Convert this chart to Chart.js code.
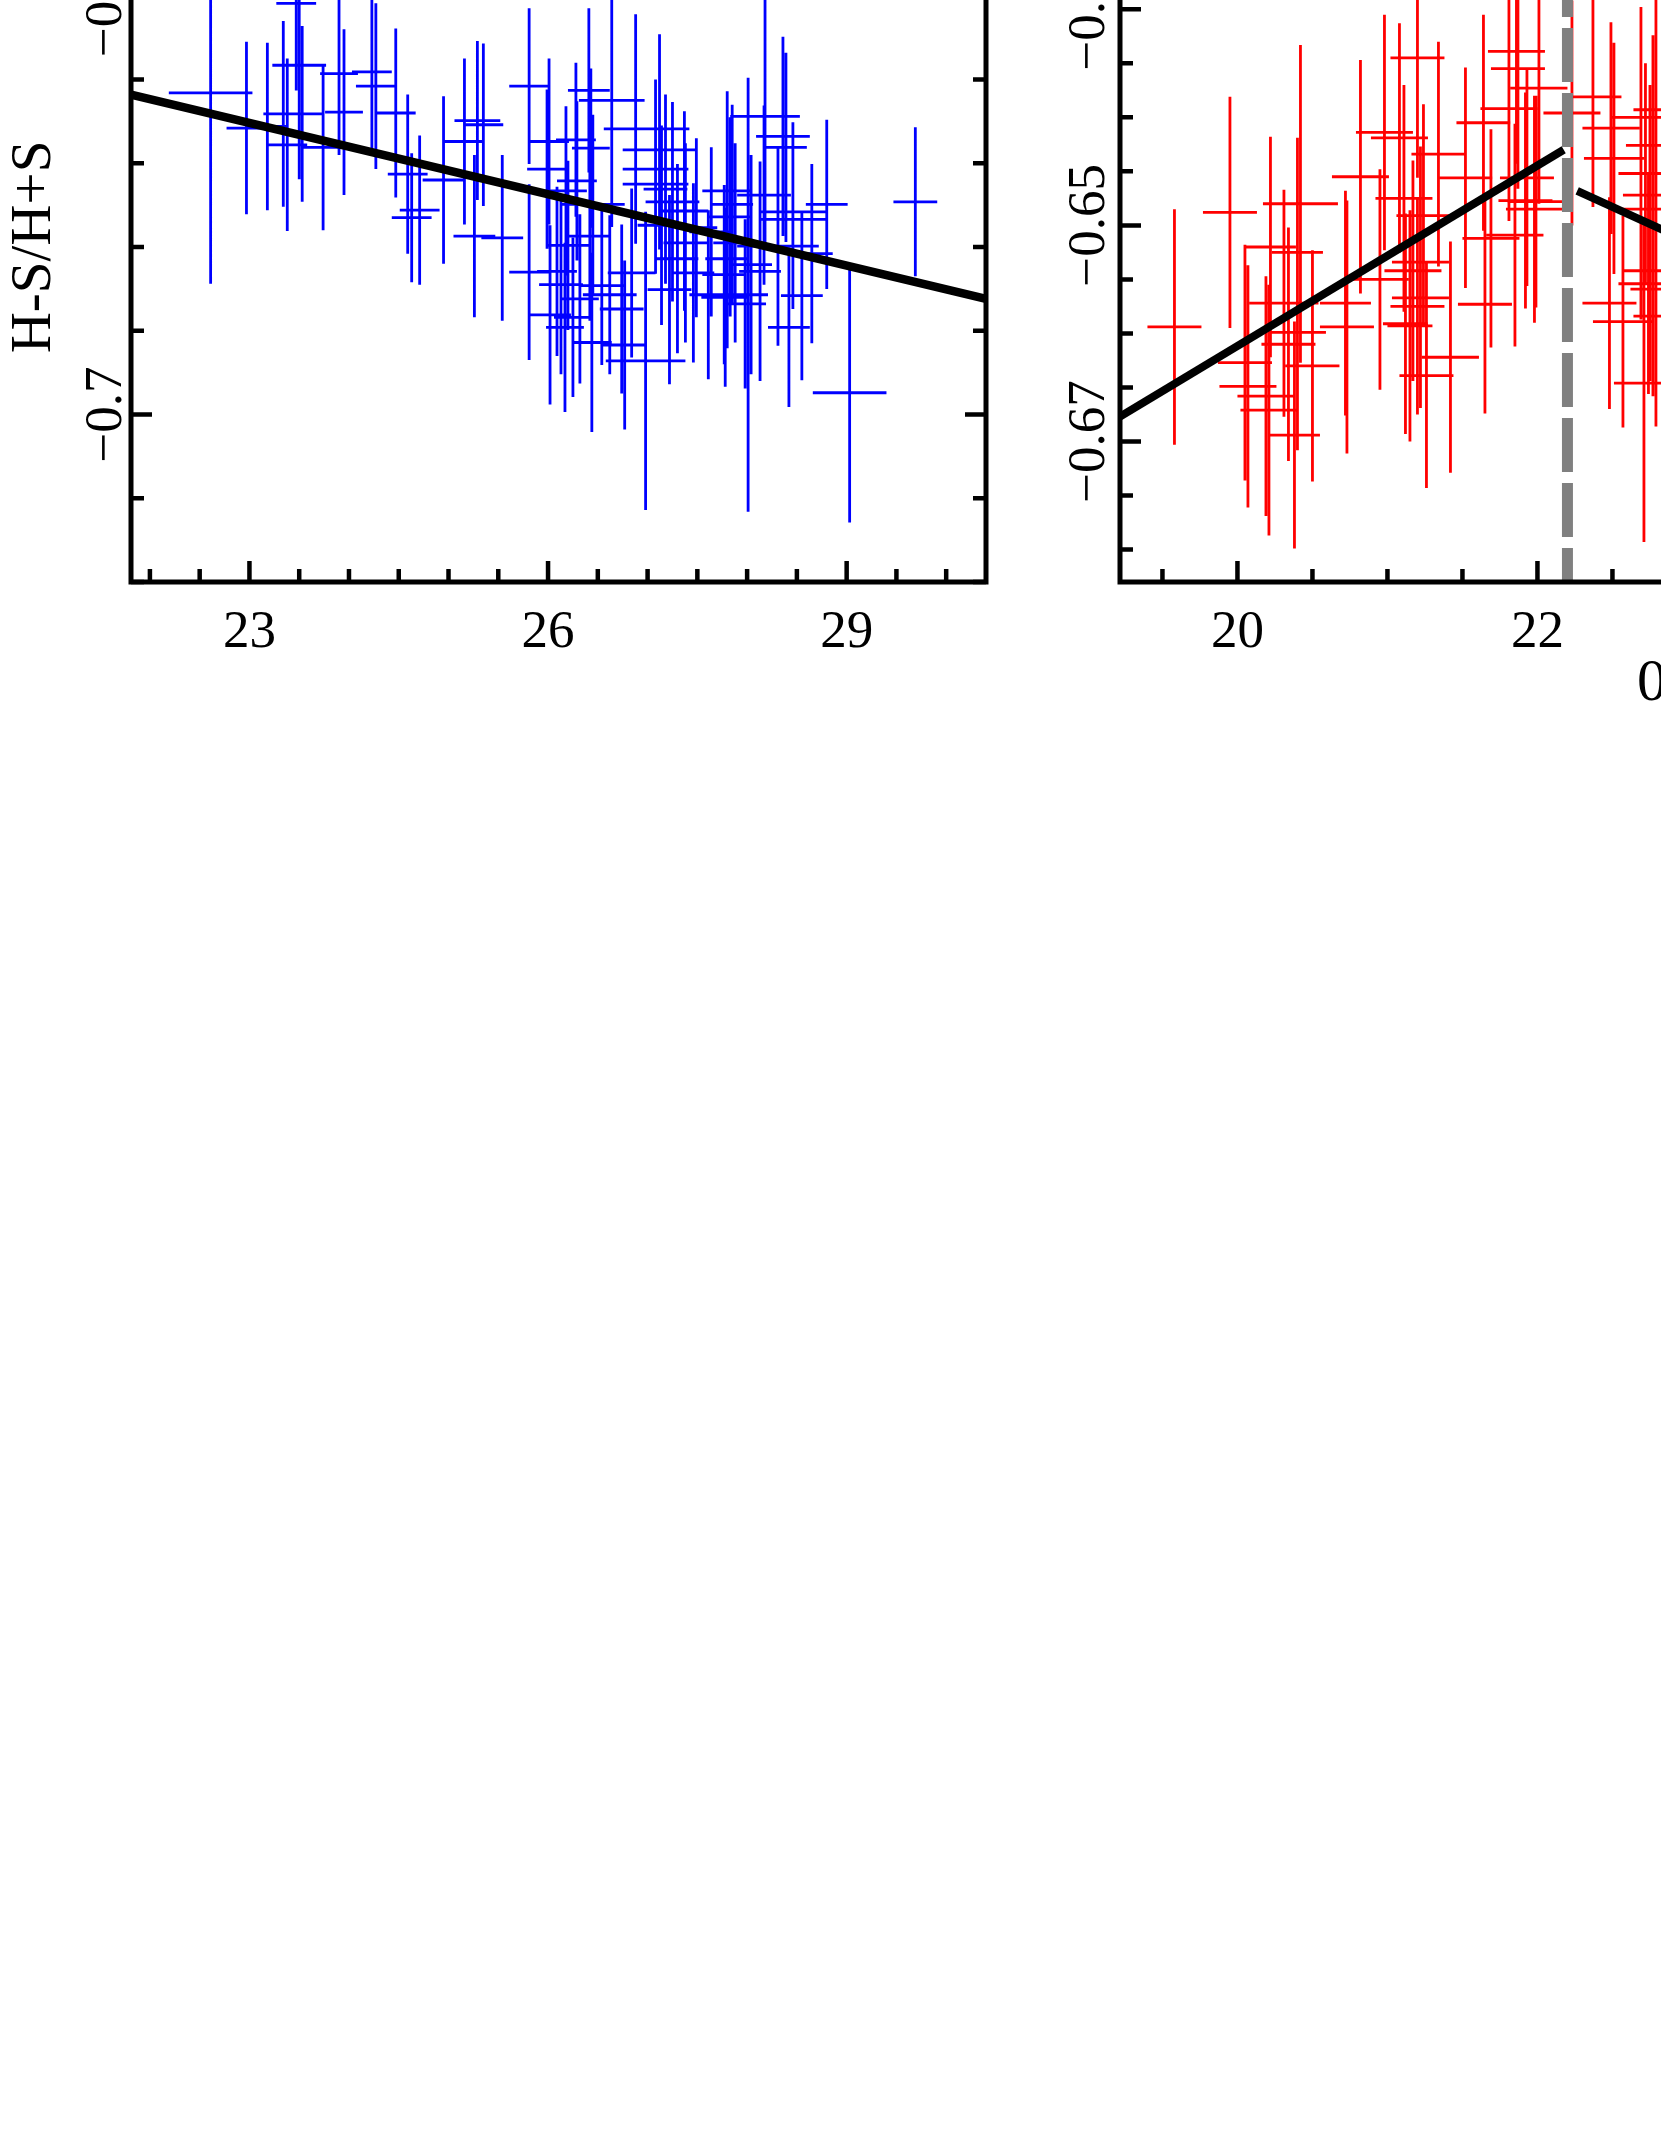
<!DOCTYPE html>
<html>
<head>
<meta charset="utf-8">
<script src="https://cdn.jsdelivr.net/npm/chart.js@4.4.1/dist/chart.umd.min.js"></script>
<style>
  html, body { margin: 0; padding: 0; background: #fff; overflow: hidden; width: 1661px; height: 2149px; }
  #leftPanel { position: absolute; left: 0; top: -150px; }
  #rightPanel { position: absolute; left: 1000px; top: -150px; }
</style>
</head>
<body>
<canvas id="leftPanel" width="1040" height="830"></canvas>
<canvas id="rightPanel" width="1100" height="900"></canvas>
<script>
// Blue panel (left): x value, hardness ratio, and their errors
const blueX = [22.61, 22.97, 23.18, 23.34, 23.53, 23.95, 23.38, 23.74, 23.47, 23.50, 23.90, 24.23, 24.27, 24.47, 24.59, 24.71, 24.63, 24.95, 25.16, 25.29,
  25.35, 25.26, 25.54, 25.81, 26.01, 25.99, 26.28, 26.41, 26.64, 26.43, 26.29, 26.18, 26.45, 26.42, 26.20, 25.81, 26.09, 26.13, 26.32, 26.02,
  26.17, 26.25, 26.44, 26.54, 26.62, 26.74, 26.84, 26.77, 26.98, 26.88, 27.12, 27.12, 27.08, 27.08, 27.18, 27.25, 27.37, 27.14, 27.49, 27.64,
  27.38, 27.30, 27.46, 27.22, 27.61, 27.78, 27.98, 27.77, 27.80, 27.88, 27.83, 27.85, 27.80, 28.18, 28.36, 28.39, 28.17, 28.80, 28.46, 28.46,
  28.31, 28.65, 28.04, 28.13, 28.55, 28.42, 29.69, 29.03, 28.01];
const blueY = [-0.6616, -0.6658, -0.6656, -0.6641, -0.6641, -0.6639, -0.6678, -0.6681, -0.6509, -0.6583, -0.6593, -0.6591, -0.6608, -0.6640, -0.6713, -0.6756, -0.6765, -0.6720, -0.6674, -0.6649,
  -0.6654, -0.6787, -0.6789, -0.6608, -0.6674, -0.6707, -0.6672, -0.6613, -0.6625, -0.6682, -0.6721, -0.6733, -0.6749, -0.6787, -0.6798, -0.6830, -0.6829, -0.6845, -0.6862, -0.6881,
  -0.6896, -0.6884, -0.6914, -0.6846, -0.6857, -0.6874, -0.6831, -0.6917, -0.6936, -0.6659, -0.6659, -0.6684, -0.6707, -0.6725, -0.6731, -0.6746, -0.6757, -0.6774, -0.6777, -0.6782,
  -0.6795, -0.6814, -0.6831, -0.6851, -0.6857, -0.6860, -0.6868, -0.6833, -0.6814, -0.6795, -0.6764, -0.6749, -0.6733, -0.6644, -0.6668, -0.6681, -0.6738, -0.6749, -0.6758, -0.6767,
  -0.6799, -0.6808, -0.6821, -0.6829, -0.6858, -0.6896, -0.6746, -0.6974, -0.6857];
const blueXErr = [0.42, 0.20, 0.21, 0.20, 0.20, 0.19, 0.20, 0.20, 0.20, 0.27, 0.19, 0.20, 0.20, 0.20, 0.20, 0.20, 0.20, 0.21, 0.20, 0.23,
  0.20, 0.21, 0.21, 0.20, 0.20, 0.20, 0.20, 0.21, 0.33, 0.19, 0.20, 0.21, 0.32, 0.21, 0.22, 0.20, 0.20, 0.22, 0.19, 0.21,
  0.19, 0.19, 0.20, 0.22, 0.27, 0.22, 0.24, 0.22, 0.40, 0.32, 0.30, 0.37, 0.33, 0.33, 0.22, 0.27, 0.24, 0.24, 0.21, 0.22,
  0.22, 0.21, 0.21, 0.22, 0.19, 0.24, 0.21, 0.22, 0.22, 0.22, 0.22, 0.21, 0.25, 0.35, 0.27, 0.21, 0.27, 0.21, 0.33, 0.33,
  0.41, 0.21, 0.21, 0.21, 0.21, 0.21, 0.22, 0.37, 0.20];
const blueYErr = [0.0228, 0.0103, 0.0100, 0.0111, 0.0105, 0.0099, 0.0103, 0.0099, 0.0104, 0.0136, 0.0097, 0.0098, 0.0099, 0.0101, 0.0095, 0.0089, 0.0077, 0.0100, 0.0099, 0.0095,
  0.0097, 0.0097, 0.0099, 0.0093, 0.0099, 0.0095, 0.0092, 0.0098, 0.0151, 0.0095, 0.0095, 0.0101, 0.0107, 0.0101, 0.0101, 0.0105, 0.0101, 0.0107, 0.0101, 0.0107,
  0.0101, 0.0095, 0.0107, 0.0095, 0.0095, 0.0101, 0.0101, 0.0101, 0.0178, 0.0137, 0.0113, 0.0119, 0.0107, 0.0107, 0.0113, 0.0119, 0.0119, 0.0119, 0.0107, 0.0101,
  0.0119, 0.0113, 0.0107, 0.0113, 0.0101, 0.0107, 0.0101, 0.0107, 0.0107, 0.0119, 0.0119, 0.0119, 0.0119, 0.0155, 0.0119, 0.0113, 0.0107, 0.0101, 0.0107, 0.0107,
  0.0119, 0.0107, 0.0131, 0.0131, 0.0101, 0.0095, 0.0089, 0.0155, 0.0259];

// Red panel (right)
const redX = [19.58, 19.95, 20.42, 20.22, 20.40, 20.73, 20.95, 20.40, 20.34, 20.05, 20.50, 20.07, 20.19, 20.21, 20.38, 20.31, 20.72, 20.82, 21.11, 21.20,
  21.86, 21.81, 21.87, 22.01, 22.23, 22.37, 21.64, 22.49, 20.98, 21.08, 21.34, 22.51, 22.77, 21.52, 21.93, 21.92, 21.99, 21.98, 21.24, 21.85,
  21.69, 21.22, 21.17, 22.69, 22.72, 22.69, 22.79, 22.75, 22.75, 22.74, 21.22, 21.20, 21.15, 21.12, 21.42, 21.26, 21.65, 22.48, 22.57, 22.71,
  22.79, 22.77];
const redY = [-0.6594, -0.6488, -0.6480, -0.6520, -0.6525, -0.6594, -0.6550, -0.6599, -0.6610, -0.6627, -0.6630, -0.6649, -0.6658, -0.6671, -0.6694, -0.6572, -0.6572, -0.6455, -0.6475, -0.6345,
  -0.6339, -0.6392, -0.6355, -0.6373, -0.6396, -0.6381, -0.6405, -0.6410, -0.6414, -0.6419, -0.6434, -0.6438, -0.6426, -0.6456, -0.6456, -0.6477, -0.6478, -0.6485, -0.6491, -0.6509,
  -0.6512, -0.6534, -0.6542, -0.6485, -0.6452, -0.6400, -0.6393, -0.6472, -0.6542, -0.6554, -0.6567, -0.6575, -0.6593, -0.6591, -0.6622, -0.6639, -0.6573, -0.6572, -0.6589, -0.6646,
  -0.6584, -0.6559];
const redXErr = [0.18, 0.18, 0.25, 0.17, 0.17, 0.18, 0.19, 0.19, 0.18, 0.18, 0.18, 0.19, 0.19, 0.19, 0.17, 0.23, 0.17, 0.19, 0.19, 0.18,
  0.19, 0.19, 0.18, 0.19, 0.19, 0.19, 0.18, 0.19, 0.19, 0.19, 0.18, 0.20, 0.18, 0.18, 0.18, 0.18, 0.19, 0.19, 0.18, 0.19,
  0.19, 0.19, 0.19, 0.17, 0.18, 0.20, 0.15, 0.18, 0.18, 0.20, 0.19, 0.18, 0.15, 0.15, 0.19, 0.18, 0.18, 0.18, 0.20, 0.20,
  0.15, 0.15];
const redYErr = [0.0109, 0.0107, 0.0147, 0.0102, 0.0106, 0.0117, 0.0102, 0.0109, 0.0108, 0.0109, 0.0107, 0.0112, 0.0111, 0.0116, 0.0105, 0.0105, 0.0104, 0.0108, 0.0105, 0.0111,
  0.0104, 0.0104, 0.0111, 0.0107, 0.0104, 0.0102, 0.0100, 0.0098, 0.0109, 0.0106, 0.0104, 0.0107, 0.0102, 0.0102, 0.0100, 0.0100, 0.0098, 0.0105, 0.0103, 0.0103,
  0.0101, 0.0107, 0.0102, 0.0102, 0.0102, 0.0102, 0.0102, 0.0102, 0.0102, 0.0102, 0.0102, 0.0100, 0.0107, 0.0102, 0.0107, 0.0104, 0.0101, 0.0098, 0.0098, 0.0147,
  0.0102, 0.0099];

// Fitted lines and the break time
const blueFitX = [21.81, 30.40];
const blueFitY = [-0.6618, -0.6862];
const redFit1X = [19.217, 22.175];
const redFit1Y = [-0.6677, -0.6430];
const redFit2X = [22.265, 24.92];
const redFit2Y = [-0.6468, -0.6636];
const breakX = 22.2;

// Axes
const leftXRange = [21.81, 30.40], leftYRange = [-0.72, -0.64];
const rightXRange = [19.217, 24.917], rightYRange = [-0.683, -0.621];
const leftXTicks = [23, 26, 29], leftXLabels = ['23', '26', '29'];
const leftYTicks = [-0.7, -0.65], leftYLabels = ['\u22120.7', '\u22120.65'];
const rightXTicks = [20, 22], rightXLabels = ['20', '22'];
const rightYTicks = [-0.67, -0.65, -0.63], rightYLabels = ['\u22120.67', '\u22120.65', '\u22120.63'];

const FONT = "'Liberation Serif', 'Times New Roman', serif";

function pts(xs, ys) {
  return xs.map((x, i) => ({ x: x, y: ys[i] }));
}

function minorValues(min, max, step) {
  const out = [];
  const n0 = Math.ceil(min / step - 1e-6), n1 = Math.floor(max / step + 1e-6);
  for (let k = n0; k <= n1; k++) out.push(k * step);
  return out;
}

// error bars under the lines, frame / ticks / labels on top
const panelPlugin = {
  id: 'panel',
  beforeDatasetsDraw(chart) {
    const { ctx, chartArea: a } = chart;
    const xs = chart.scales.x, ys = chart.scales.y;
    ctx.save();
    ctx.beginPath();
    ctx.rect(a.left, a.top, a.right - a.left, a.bottom - a.top);
    ctx.clip();
    chart.data.datasets.forEach(ds => {
      if (!ds.xErr) return;
      ctx.strokeStyle = ds.errColor;
      ctx.lineWidth = 2.8;
      ctx.beginPath();
      ds.data.forEach((p, i) => {
        const cx = xs.getPixelForValue(p.x), cy = ys.getPixelForValue(p.y);
        ctx.moveTo(xs.getPixelForValue(p.x - ds.xErr[i]), cy);
        ctx.lineTo(xs.getPixelForValue(p.x + ds.xErr[i]), cy);
        ctx.moveTo(cx, ys.getPixelForValue(p.y - ds.yErr[i]));
        ctx.lineTo(cx, ys.getPixelForValue(p.y + ds.yErr[i]));
      });
      ctx.stroke();
    });
    ctx.restore();
  },
  afterDraw(chart, args, o) {
    const { ctx, chartArea: a } = chart;
    const xs = chart.scales.x, ys = chart.scales.y;
    ctx.save();
    ctx.strokeStyle = '#000';
    ctx.lineWidth = 5;
    ctx.lineCap = 'butt';
    ctx.strokeRect(a.left, a.top, a.right - a.left, a.bottom - a.top);

    const isMajor = (v, list, step) => list.some(m => Math.abs(m - v) < step / 10);
    ctx.lineWidth = 4.5;
    ctx.beginPath();
    minorValues(xs.min, xs.max, o.xStep).forEach(v => {
      const len = isMajor(v, o.xTicks, o.xStep) ? 21 : 13;
      const px = xs.getPixelForValue(v);
      ctx.moveTo(px, a.bottom); ctx.lineTo(px, a.bottom - len);
      ctx.moveTo(px, a.top); ctx.lineTo(px, a.top + len);
    });
    minorValues(ys.min, ys.max, o.yStep).forEach(v => {
      const len = isMajor(v, o.yTicks, o.yStep) ? 21 : 13;
      const py = ys.getPixelForValue(v);
      ctx.moveTo(a.left, py); ctx.lineTo(a.left + len, py);
      ctx.moveTo(a.right, py); ctx.lineTo(a.right - len, py);
    });
    ctx.stroke();

    ctx.fillStyle = '#000';
    ctx.font = '53px ' + FONT;
    ctx.textAlign = 'center';
    ctx.textBaseline = 'alphabetic';
    o.xTicks.forEach((v, i) => {
      ctx.fillText(o.xLabels[i], xs.getPixelForValue(v), a.bottom + 65);
    });
    o.yTicks.forEach((v, i) => {
      ctx.save();
      ctx.translate(a.left - o.yLabelGap, ys.getPixelForValue(v));
      ctx.rotate(-Math.PI / 2);
      ctx.fillText(o.yLabels[i], 0, 0);
      ctx.restore();
    });
    if (o.yTitle) {
      ctx.save();
      ctx.font = '57px ' + FONT;
      ctx.translate(50, (a.top + a.bottom) / 2);
      ctx.rotate(-Math.PI / 2);
      ctx.fillText(o.yTitle, 0, 0);
      ctx.restore();
    }
    if (o.xTitle) {
      ctx.font = '60px ' + FONT;
      ctx.textAlign = 'left';
      ctx.fillText(o.xTitle, o.xTitleX, a.bottom + 118);
    }
    ctx.restore();
  }
};

function lineSet(xs, ys, color, width, dash) {
  return {
    data: pts(xs, ys), showLine: true, borderColor: color, borderWidth: width,
    borderDash: dash || [], borderDashOffset: 14, borderCapStyle: 'butt',
    pointRadius: 0, fill: false
  };
}

function axisOpts(range) {
  return { type: 'linear', min: range[0], max: range[1], display: false };
}

new Chart(document.getElementById('leftPanel'), {
  type: 'scatter',
  data: {
    datasets: [
      lineSet(blueFitX, blueFitY, '#000', 8.5),
      { data: pts(blueX, blueY), xErr: blueXErr, yErr: blueYErr, errColor: '#0000ff', pointRadius: 0 }
    ]
  },
  options: {
    responsive: false,
    animation: false,
    layout: { padding: { left: 131, right: 54, top: 62, bottom: 98 } },
    scales: { x: axisOpts(leftXRange), y: axisOpts(leftYRange) },
    plugins: {
      legend: { display: false },
      tooltip: { enabled: false },
      panel: {
        xTicks: leftXTicks, xLabels: leftXLabels, xStep: 0.5,
        yTicks: leftYTicks, yLabels: leftYLabels, yStep: 0.01,
        yLabelGap: 10, yTitle: 'H-S/H+S'
      }
    }
  },
  plugins: [panelPlugin]
});

new Chart(document.getElementById('rightPanel'), {
  type: 'scatter',
  data: {
    datasets: [
      lineSet(redFit1X, redFit1Y, '#000', 8),
      lineSet(redFit2X, redFit2Y, '#000', 8),
      lineSet([breakX, breakX], [rightYRange[1], rightYRange[0]], '#808080', 11, [54, 11]),
      { data: pts(redX, redY), xErr: redXErr, yErr: redYErr, errColor: '#ff0000', pointRadius: 0 }
    ]
  },
  options: {
    responsive: false,
    animation: false,
    layout: { padding: { left: 120, right: 125, top: 62, bottom: 168 } },
    scales: { x: axisOpts(rightXRange), y: axisOpts(rightYRange) },
    plugins: {
      legend: { display: false },
      tooltip: { enabled: false },
      panel: {
        xTicks: rightXTicks, xLabels: rightXLabels, xStep: 0.5,
        yTicks: rightYTicks, yLabels: rightYLabels, yStep: 0.005,
        yLabelGap: 16, xTitle: '0.3\u201310 keV count rate (counts s\u207b\u00b9)', xTitleX: 637
      }
    }
  },
  plugins: [panelPlugin]
});
</script>
</body>
</html>
